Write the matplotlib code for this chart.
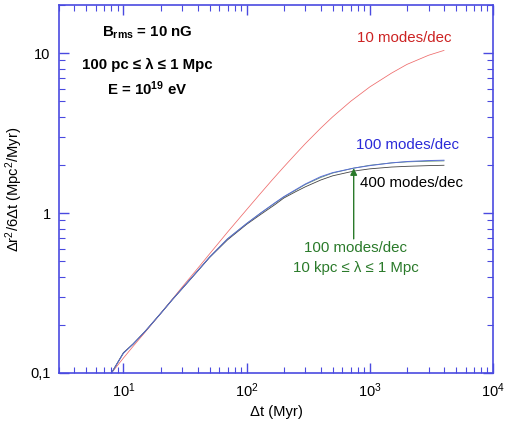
import numpy as np
import matplotlib
matplotlib.use('Agg')
import matplotlib.pyplot as plt
from matplotlib.ticker import LogLocator, FuncFormatter, NullFormatter

plt.rcParams['font.family'] = ['Liberation Sans', 'DejaVu Sans']
plt.rcParams['mathtext.fontset'] = 'custom'
plt.rcParams['mathtext.rm'] = 'Liberation Sans'
plt.rcParams['mathtext.it'] = 'Liberation Sans:italic'
plt.rcParams['mathtext.bf'] = 'Liberation Sans:bold'

# time (Myr) and diffusion coefficient (Mpc^2/Myr)
t_red = [8, 10, 12, 15, 20, 25, 30, 40, 50, 70, 100, 130, 160, 200, 250, 300, 400, 500,
         700, 1000, 1500, 2000, 3000, 4000]
d_red = [0.100, 0.124, 0.147, 0.180, 0.235, 0.290, 0.345, 0.45, 0.555, 0.76, 1.05, 1.33,
         1.60, 1.94, 2.34, 2.72, 3.40, 4.00, 5.0, 6.15, 7.5, 8.5, 9.7, 10.4]

t_mid = [8, 10, 12, 15, 20, 25, 30, 40, 50, 70, 100, 130, 170, 200, 250, 300, 400, 500,
         740, 1000, 1500, 2000, 3000, 4000]
d_blue = [0.100, 0.133, 0.152, 0.182, 0.235, 0.288, 0.338, 0.435, 0.53, 0.69, 0.86, 1.0,
          1.16, 1.265, 1.40, 1.52, 1.69, 1.79, 1.91, 1.98, 2.06, 2.10, 2.13, 2.14]
d_green = [0.100, 0.133, 0.152, 0.182, 0.235, 0.288, 0.338, 0.435, 0.53, 0.69, 0.86, 1.0,
           1.155, 1.26, 1.39, 1.51, 1.67, 1.78, 1.91, 1.99, 2.06, 2.09, 2.11, 2.12]
d_black = [0.100, 0.134, 0.152, 0.182, 0.235, 0.288, 0.337, 0.433, 0.527, 0.68, 0.85, 0.98,
           1.13, 1.24, 1.36, 1.46, 1.61, 1.71, 1.83, 1.89, 1.94, 1.96, 1.98, 1.99]

axis_col = '#4a4ae0'
green = '#2a7a2a'

fig = plt.figure(figsize=(5.05, 4.24), dpi=100)
ax = fig.add_axes([59/505, 1 - 373/424, (493-59)/505, (373-5)/424])

ax.plot(t_red, d_red, color='#ee6a6a', lw=0.55)
ax.plot(t_mid, d_green, color='#5f8f6f', lw=0.6)
ax.plot(t_mid, d_black, color='#444444', lw=0.6)
ax.plot(t_mid, d_blue, color='#5b6fd8', lw=0.7)

ax.set_xscale('log')
ax.set_yscale('log')
ax.set_xlim(3, 1e4)
ax.set_ylim(0.1, 20)

for s in ax.spines.values():
    s.set_color(axis_col)
    s.set_linewidth(1.2)

ax.xaxis.set_major_locator(LogLocator(base=10, numticks=10))
ax.xaxis.set_minor_locator(LogLocator(base=10, subs=np.arange(2, 10), numticks=20))
ax.yaxis.set_major_locator(LogLocator(base=10, numticks=10))
ax.yaxis.set_minor_locator(LogLocator(base=10, subs=np.arange(2, 10), numticks=20))
ax.xaxis.set_minor_formatter(NullFormatter())
ax.yaxis.set_minor_formatter(NullFormatter())
ylab = {0.1: '0,1', 1.0: '1', 10.0: '10'}
ax.yaxis.set_major_formatter(FuncFormatter(lambda v, p: ylab.get(round(v, 3), '')))

ax.tick_params(which='both', direction='in', top=True, right=True, color=axis_col,
               labelsize=10.5, labelcolor='black')
ax.tick_params(which='major', length=7, width=1.0, pad=6)
ax.tick_params(which='minor', length=4, width=0.8)

ax.set_xlabel('Δt (Myr)', fontsize=10.6, labelpad=4)
ax.set_ylabel(r'Δr$^2$/6Δt (Mpc$^2$/Myr)', fontsize=10.6, labelpad=4)

tr = ax.transAxes
def px(x, y):
    return ((x - 59) / (493 - 59), (373 - y) / (373 - 5))

fs = 10.8
ax.text(*px(147, 33), r'$\mathbf{B}_{\mathbf{rms}}$ = 10 nG', transform=tr, ha='center', va='center',
        fontsize=fs, fontweight='bold')
ax.text(*px(147, 65), '100 pc ≤ λ ≤ 1 Mpc', transform=tr, ha='center', va='center',
        fontsize=fs, fontweight='bold')
ax.text(*px(147, 89), r'E = 10$^{\mathbf{19}}$ eV', transform=tr, ha='center', va='center',
        fontsize=fs, fontweight='bold')

ax.text(*px(404, 38), '10 modes/dec', transform=tr, ha='center', va='center', fontsize=fs, color='#cc2222')
ax.text(*px(407, 145), '100 modes/dec', transform=tr, ha='center', va='center', fontsize=fs, color='#2a2ad8')
ax.text(*px(411, 183), '400 modes/dec', transform=tr, ha='center', va='center', fontsize=fs, color='black')
ax.text(*px(355, 248), '100 modes/dec', transform=tr, ha='center', va='center', fontsize=fs, color=green)
ax.text(*px(356, 268), '10 kpc ≤ λ ≤ 1 Mpc', transform=tr, ha='center', va='center', fontsize=fs, color=green)

ax.annotate('', xy=(740, 1.91), xytext=(740, 0.69),
            arrowprops=dict(arrowstyle='-|>', color=green, lw=1.0, mutation_scale=10,
                            shrinkA=0, shrinkB=0))

fig.savefig('out.png', dpi=100)
